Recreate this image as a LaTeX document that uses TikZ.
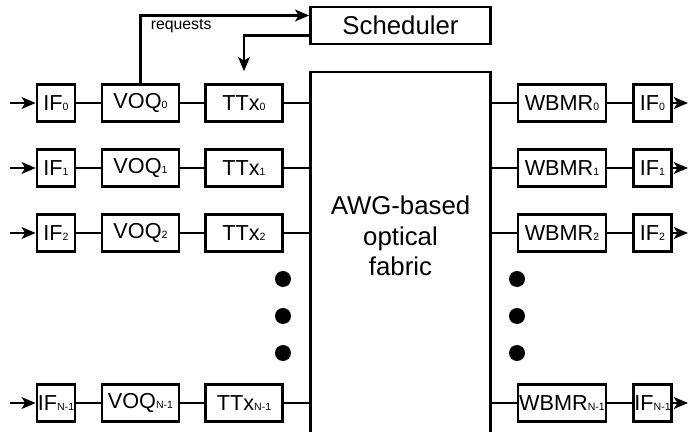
\documentclass[tikz,border=0pt]{standalone}
\usepackage{fontspec}
\setmainfont{Liberation Sans}
\usetikzlibrary{arrows.meta}
\newcommand{\subx}[1]{{\fontsize{9}{9}\selectfont #1}}

\begin{document}
\begin{tikzpicture}[x=0.03cm, y=-0.03cm, line width=2.2pt,
  blk/.style={draw, inner sep=0pt, minimum height=1.11cm, font=\fontsize{18.5}{19}\selectfont},
  ifbox/.style={blk, minimum width=1.14cm},
  qbox/.style={blk, minimum width=2.31cm},
  wbox/.style={blk, minimum width=2.64cm},
  big/.style={font=\fontsize{22}{26}\selectfont, align=center},
  arr/.style={-{Stealth[length=12pt, width=10pt, inset=3pt]}}]
\useasboundingbox (0,0) rectangle (689,432);
% scheduler and fabric
\node [blk, big, minimum width=5.4cm] (sched) at (400.5,25.5) {Scheduler};
\coordinate (fabl) at (310.5,72);
\coordinate (fabr) at (490.5,72);
\draw (310.5,432) -- (fabl) -- (fabr) -- (490.5,432);
\node [big] (fabric) at (400.5,236) {AWG-based\\optical\\fabric};
% port 0
\node [ifbox] (if0) at (56,103) {IF\subx{0}};
\node [qbox] (voq0) at (140.5,103) {VOQ\subx{0}};
\node [qbox] (ttx0) at (244,103) {TTx\subx{0}};
\node [wbox] (wbmr0) at (562,103) {WBMR\subx{0}};
\node [ifbox] (ifo0) at (652.5,103) {IF\subx{0}};
\coordinate (in0) at (10,103);
\coordinate (out0) at (688,103);
\draw [arr] (in0) -- (if0);
\draw (if0) -- (voq0) -- (ttx0) -- (ttx0 -| fabl);
\draw (wbmr0 -| fabr) -- (wbmr0) -- (ifo0);
\draw [arr] (ifo0) -- (out0);
% port 1
\node [ifbox] (if1) at (56,168) {IF\subx{1}};
\node [qbox] (voq1) at (140.5,168) {VOQ\subx{1}};
\node [qbox] (ttx1) at (244,168) {TTx\subx{1}};
\node [wbox] (wbmr1) at (562,168) {WBMR\subx{1}};
\node [ifbox] (ifo1) at (652.5,168) {IF\subx{1}};
\coordinate (in1) at (10,168);
\coordinate (out1) at (688,168);
\draw [arr] (in1) -- (if1);
\draw (if1) -- (voq1) -- (ttx1) -- (ttx1 -| fabl);
\draw (wbmr1 -| fabr) -- (wbmr1) -- (ifo1);
\draw [arr] (ifo1) -- (out1);
% port 2
\node [ifbox] (if2) at (56,233) {IF\subx{2}};
\node [qbox] (voq2) at (140.5,233) {VOQ\subx{2}};
\node [qbox] (ttx2) at (244,233) {TTx\subx{2}};
\node [wbox] (wbmr2) at (562,233) {WBMR\subx{2}};
\node [ifbox] (ifo2) at (652.5,233) {IF\subx{2}};
\coordinate (in2) at (10,233);
\coordinate (out2) at (688,233);
\draw [arr] (in2) -- (if2);
\draw (if2) -- (voq2) -- (ttx2) -- (ttx2 -| fabl);
\draw (wbmr2 -| fabr) -- (wbmr2) -- (ifo2);
\draw [arr] (ifo2) -- (out2);
% dots
\fill (283,279) circle (8);
\fill (283,316) circle (8);
\fill (283,353) circle (8);
\fill (517,279) circle (8);
\fill (517,316) circle (8);
\fill (517,353) circle (8);
% port N-1
\node [ifbox] (ifn) at (56,403) {IF\subx{N-1}};
\node [qbox] (voqn) at (140.5,403) {VOQ\subx{N-1}};
\node [qbox] (ttxn) at (244,403) {TTx\subx{N-1}};
\node [wbox] (wbmrn) at (562,403) {WBMR\subx{N-1}};
\node [ifbox] (ifon) at (652.5,403) {IF\subx{N-1}};
\coordinate (inn) at (10,403);
\coordinate (outn) at (688,403);
\draw [arr] (inn) -- (ifn);
\draw (ifn) -- (voqn) -- (ttxn) -- (ttxn -| fabl);
\draw (wbmrn -| fabr) -- (wbmrn) -- (ifon);
\draw [arr] (ifon) -- (outn);
% requests and grants
\draw [arr] (voq0.north) |- node (req) [pos=0.5, anchor=north west, xshift=0.2cm, inner sep=2pt, font=\fontsize{13.5}{14}\selectfont] {requests} ([yshift=0.3cm]sched.west);
\draw [arr] ([yshift=-0.3cm]sched.west) -| ([yshift=0.36cm]ttx0.north);
\end{tikzpicture}
\end{document}
